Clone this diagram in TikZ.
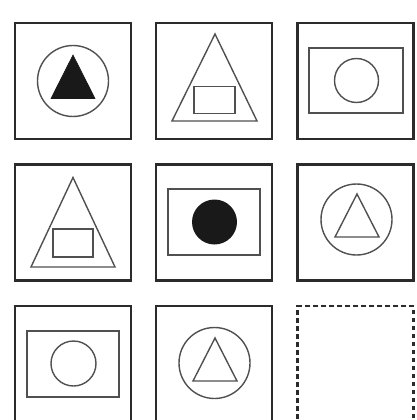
\documentclass[tikz,border=0pt]{standalone}
\usepackage{xcolor}
\usetikzlibrary{calc, positioning}

\definecolor{framegray}{HTML}{2B2B2B}
\definecolor{linegray}{HTML}{505050}

\tikzset{
  cellbox/.style={draw=framegray, line width=2.4pt, minimum size=116pt, inner sep=0pt},
  emptybox/.style={draw=framegray, line width=2.6pt, dash pattern=on 4.5pt off 3.5pt, minimum size=116pt, inner sep=0pt},
  inner/.style={draw=linegray, line width=1.4pt, line join=miter},
  solid fill/.style={fill=black!90, draw=black!90, line width=0.6pt}
}

\begin{document}
\begin{tikzpicture}[x=1pt,y=-1pt]
\useasboundingbox (0,0) rectangle (417,420);
\def\colA{73}
\def\colB{214}
\def\colC{355.5}
\def\rowA{81}
\def\rowB{222.5}
\def\rowC{364}

% the nine cells
\node[cellbox] (c11) at (\colA,\rowA) {};
\node[cellbox] (c12) at (\colB,\rowA) {};
\node[cellbox] (c13) at (\colC,\rowA) {};
\node[cellbox] (c21) at (\colA,\rowB) {};
\node[cellbox] (c22) at (\colB,\rowB) {};
\node[cellbox] (c23) at (\colC,\rowB) {};
\node[cellbox] (c31) at (\colA,\rowC) {};
\node[cellbox] (c32) at (\colB,\rowC) {};
\node[emptybox] (c33) at (\colC,\rowC) {};

% row 1
\begin{scope}[shift={(c11)}]
  \draw[inner] (0,0) circle[radius=35.5];
  \draw[solid fill] (0,-26) -- (22,17.5) -- (-22,17.5) -- cycle;
\end{scope}
\begin{scope}[shift={(c12)}]
  \draw[inner] (1,-47) -- (43,40) -- (-42,40) -- cycle;
  \draw[inner] (-20,5.5) rectangle (21,32.5);
\end{scope}
\begin{scope}[shift={(c13)}]
  \draw[inner] (-46.5,-33) rectangle (47.5,32);
  \draw[inner] (1,-0.5) circle[radius=22];
\end{scope}

% row 2
\begin{scope}[shift={(c21)}]
  \draw[inner] (0,-45) -- (42,44.5) -- (-42,44.5) -- cycle;
  \draw[inner] (-20,6.5) rectangle (20,34.5);
\end{scope}
\begin{scope}[shift={(c22)}]
  \draw[inner] (-46,-33.5) rectangle (46,32.5);
  \fill[black!90] (0.5,-0.5) circle[radius=22.5];
\end{scope}
\begin{scope}[shift={(c23)}]
  \draw[inner] (1,-3) circle[radius=35.5];
  \draw[inner] (1.5,-28.5) -- (23.5,14.5) -- (-20.5,14.5) -- cycle;
\end{scope}

% row 3
\begin{scope}[shift={(c31)}]
  \draw[inner] (-46,-33) rectangle (46,33);
  \draw[inner] (0.5,-0.5) circle[radius=22.5];
\end{scope}
\begin{scope}[shift={(c32)}]
  \draw[inner] (0.5,-1) circle[radius=35.5];
  \draw[inner] (1,-26) -- (23,17) -- (-21,17) -- cycle;
\end{scope}
\end{tikzpicture}
\end{document}
